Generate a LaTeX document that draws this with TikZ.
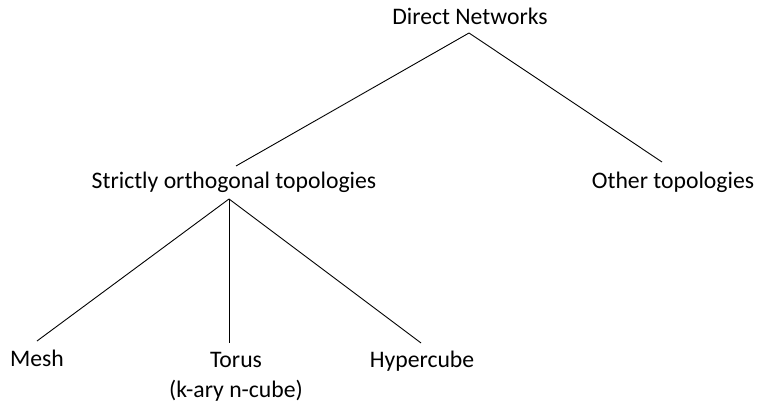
\documentclass[tikz,border=0pt]{standalone}
\usepackage{fontspec}
\setmainfont{Carlito}
\begin{document}
\begin{tikzpicture}[x=1pt,y=-1pt,
  label/.style={inner sep=0pt,font=\fontsize{23.7}{29.5}\selectfont,text=black},
  branch/.style={draw=black,line width=0.9pt}]
\useasboundingbox (0,0) rectangle (759,404);
% tree labels
\node[label,anchor=base] (dn) at (470,25) {Direct Networks};
\node[label,anchor=base] (sot) at (234,188) {Strictly orthogonal topologies};
\node[label,anchor=base] (other) at (673,188) {Other topologies};
\node[label,anchor=base] (mesh) at (37,366) {Mesh};
\node[label,anchor=north,align=center] (torus) at (236,352.5) {Torus\\(k-ary n-cube)};
\node[label,anchor=base] (hyper) at (422,367) {Hypercube};
% branch end points
\coordinate (dnfoot) at (469,33);
\coordinate (sottop) at (236,166);
\coordinate (othertop) at (662,162);
\coordinate (sotfoot) at (229,199);
\coordinate (meshtop) at (37,341);
\coordinate (torustop) at (229,343);
\coordinate (hypertop) at (421,343);
% branches
\draw[branch] (dnfoot) -- (sottop);
\draw[branch] (dnfoot) -- (othertop);
\draw[branch] (sotfoot) -- (meshtop);
\draw[branch] (sotfoot) -- (torustop);
\draw[branch] (sotfoot) -- (hypertop);
\end{tikzpicture}
\end{document}
